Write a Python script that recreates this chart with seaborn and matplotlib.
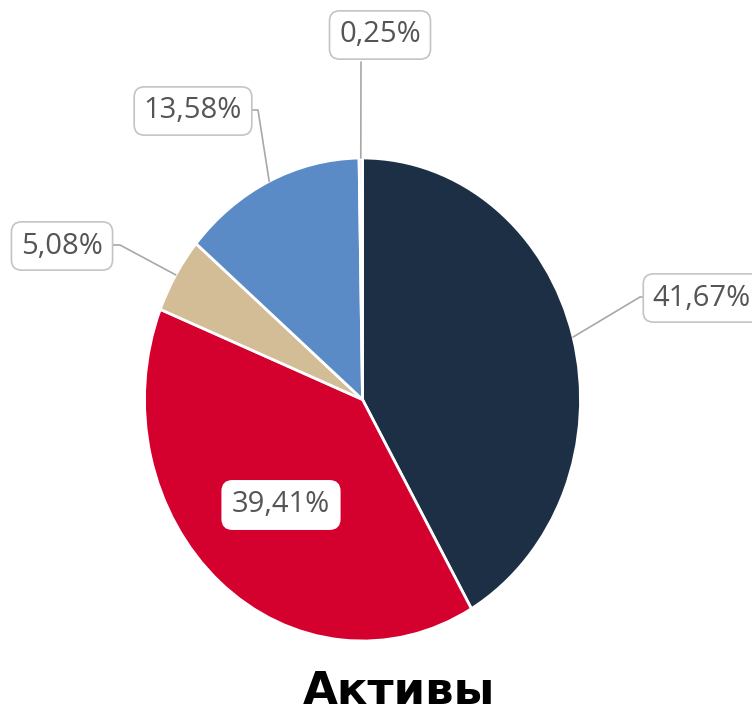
import matplotlib
matplotlib.use('Agg')
import matplotlib.pyplot as plt
import seaborn as sns
import numpy as np
from matplotlib import font_manager

# data
shares = [41.67, 39.41, 5.08, 13.58, 0.25]
colors = ['#1c2f45', '#d4002e', '#d3bd97', '#5b8bc7', '#e6e6e6']
title = 'Активы'

labels = [('%.2f' % v).replace('.', ',') + '%' for v in shares]

sns.set_theme(style='white')
plt.rcParams['font.family'] = ['DejaVu Sans']

# look for a condensed sans face; otherwise use Open Sans a bit smaller
label_font, label_stretch, label_size = 'Open Sans', 'normal', 21
for f in font_manager.fontManager.ttflist:
    if f.name in ('Open Sans', 'Noto Sans', 'Liberation Sans Narrow') and \
            (f.stretch in ('condensed', 'semi-condensed', 'extra-condensed') or 'Narrow' in f.name) \
            and f.weight in (400, 'normal', 'regular'):
        label_font, label_stretch, label_size = f.name, f.stretch, 24
        break

W, H = 752, 712
CX, CY, RX, RY = 362.5, 399.5, 218, 241.5


def to_data(px, py):
    return (px - CX) / RX, (CY - py) / RY


fig = plt.figure(figsize=(W / 100, H / 100), dpi=100)
ax = fig.add_axes([(CX - RX) / W, (H - CY - RY) / H, 2 * RX / W, 2 * RY / H])
wedges, _ = ax.pie(shares, colors=colors, startangle=90, counterclock=False,
                   wedgeprops=dict(edgecolor='white', linewidth=2))
ax.set_aspect('auto')
ax.set_xlim(-1, 1)
ax.set_ylim(-1, 1)
ax.axis('off')

# label layout in pixels: text centre, elbow, box edge (None = inside label)
layout = [
    ((702, 298), (640, 297), (647, 297)),
    ((281, 505), None, None),
    ((62, 246), (120, 245), (110, 245)),
    ((193, 111), (258, 110), (249, 110)),
    ((380, 35), None, (361, 62)),
]

for w, lab, (pos, elbow, end) in zip(wedges, labels, layout):
    tx, ty = to_data(*pos)
    inside = end is None
    if not inside:
        mid = np.deg2rad((w.theta1 + w.theta2) / 2)
        pts = [(np.cos(mid), np.sin(mid))]
        if elbow is not None:
            pts.append(to_data(*elbow))
        pts.append(to_data(*end))
        xs, ys = zip(*pts)
        ax.plot(xs, ys, color='#a8a8a8', lw=1.2, clip_on=False, zorder=1)
    ax.text(tx, ty, lab, ha='center', va='center', fontsize=label_size,
            family=label_font, fontstretch=label_stretch, color='#555555',
            zorder=5, clip_on=False,
            bbox=dict(boxstyle='round,pad=0.33,rounding_size=0.35',
                      fc='white', ec='white' if inside else '#c4c4c4', lw=1.2))

fig.text(399 / W, 1 - 704 / H, title, ha='center', va='baseline',
         fontsize=32.5, fontweight='bold', color='black')

fig.savefig('out.png', dpi=100)
